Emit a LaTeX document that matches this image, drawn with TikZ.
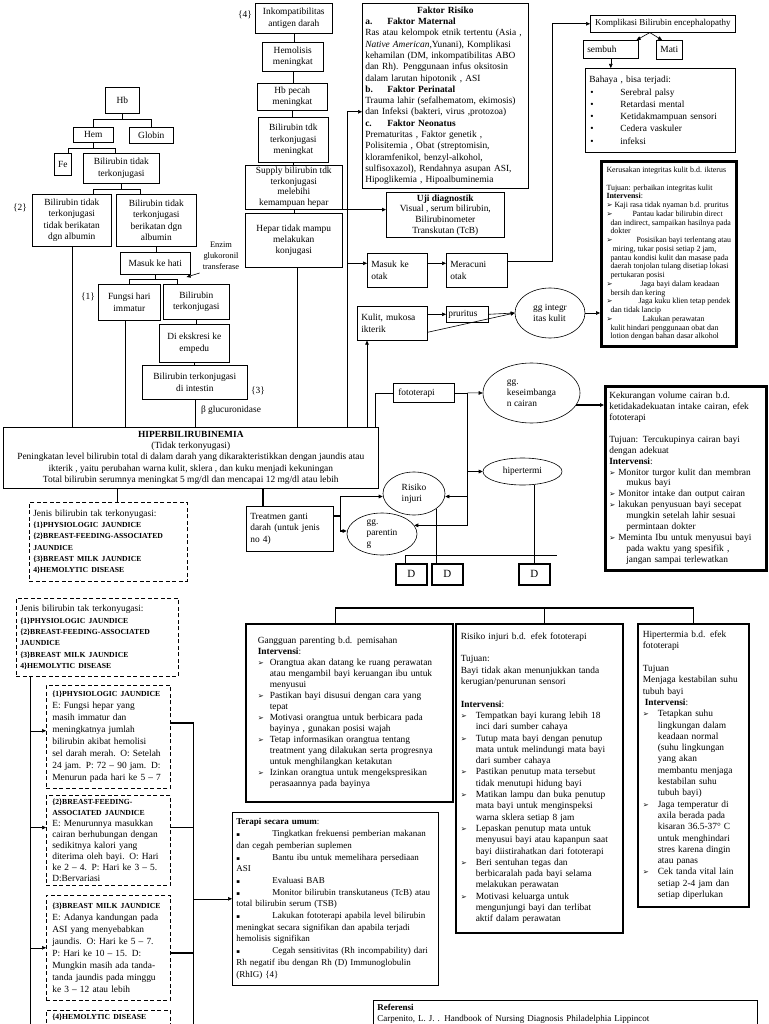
\documentclass[tikz,border=0pt]{standalone}
\usepackage{fontspec}
\setmainfont{Liberation Serif}
\newfontfamily\dingfont{DejaVu Sans}
\usepackage{tikz}
\usetikzlibrary{arrows.meta,shapes.geometric}
\newcommand{\bularr}[1][12pt]{\makebox[#1][l]{\dingfont\fontsize{7.2}{7}\selectfont ➢}}
\newcommand{\bulsq}{\makebox[36pt][l]{\dingfont\fontsize{5.5}{5}\selectfont ▪}}
\newcommand{\buldot}{\hspace*{1pt}\makebox[30pt][l]{•}}
\newcommand{\caps}[1]{{\fontsize{7.7}{11}\selectfont\bfseries #1}}
\tikzset{
  flow box/.style={draw,line width=0.6pt,anchor=north west,align=center,inner sep=1pt,
    font=\fontsize{9.4}{11.2}\selectfont},
  note box/.style={draw,line width=0.6pt,anchor=north west,align=left,inner sep=4pt,
    font=\fontsize{9.4}{11.3}\selectfont},
  heavy note/.style={note box,line width=1.6pt},
  frame note/.style={note box,line width=2.6pt},
  jenis box/.style={note box,dash pattern=on 4pt off 2.5pt},
  state/.style={ellipse,draw,line width=0.6pt,inner sep=0pt,align=left,
    font=\fontsize{9.4}{11}\selectfont},
  d box/.style={draw,line width=1.8pt,anchor=north west,minimum width=31pt,minimum height=21pt,
    inner sep=0pt,font=\fontsize{11}{11}\selectfont},
  side label/.style={inner sep=0pt,align=center,font=\fontsize{9.4}{11}\selectfont},
  flow line/.style={line width=0.6pt},
  bold line/.style={line width=1.6pt},
  flow arrow/.style={-{Triangle[length=4pt,width=3.6pt]},line width=0.6pt},
  bold arrow/.style={flow arrow,line width=1.6pt}
}
\begin{document}
\begin{tikzpicture}[x=1pt,y=-1pt]
  \clip (0,0) rectangle (768,1024);
  % left tree
  \node[flow box,minimum width=34pt,minimum height=26pt] (hb) at (105,87) {Hb};
  \node[flow box,minimum width=40pt,minimum height=15pt] (hem) at (73,127) {Hem};
  \node[flow box,minimum width=44pt,minimum height=16pt] (globin) at (129,127) {Globin};
  \node[flow box,minimum width=17pt,minimum height=22pt] (fe) at (54,153) {Fe};
  \node[flow box,minimum width=76pt,minimum height=30pt] (bt) at (83,153) {Bilirubin tidak\\terkonjugasi};
  \node[flow box,minimum width=79pt,minimum height=52pt] (b2) at (32,194) {Bilirubin tidak\\terkonjugasi\\tidak berikatan\\dgn albumin};
  \node[flow box,minimum width=80pt,minimum height=52pt] (b3) at (116,194) {Bilirubin tidak\\terkonjugasi\\berikatan dgn\\albumin};
  \node[flow box,minimum width=70pt,minimum height=22pt] (masuk) at (120,252) {Masuk ke hati};
  \node[flow box,minimum width=62pt,minimum height=36pt] (fungsi) at (98,284) {Fungsi hari\\immatur};
  \node[flow box,minimum width=66pt,minimum height=35pt] (bterk) at (163,284) {Bilirubin\\terkonjugasi};
  \node[flow box,minimum width=70pt,minimum height=38pt] (ekskresi) at (159,324) {Di ekskresi ke\\empedu};
  \node[flow box,minimum width=105pt,minimum height=34pt] (intestin) at (142,365) {Bilirubin terkonjugasi\\di intestin};
  \node[side label] (lab2) at (20,208) {\{2\}};
  \node[side label] (lab1) at (88,297) {\{1\}};
  \node[side label] (lab3) at (258,391) {\{3\}};
  \node[side label] (lab4) at (245,15) {\{4\}};
  \node[side label,font=\fontsize{8.4}{11}\selectfont] (enzim) at (221,256) {Enzim\\glukoronil\\transferase};
  \node[side label] (glucur) at (231,410) {β glucuronidase};
  % middle column
  \node[flow box,minimum width=77pt,minimum height=30pt] (inkomp) at (255,3) {Inkompatibilitas\\antigen darah};
  \node[flow box,minimum width=61pt,minimum height=29pt] (hemol) at (262,42) {Hemolisis\\meningkat};
  \node[flow box,minimum width=70pt,minimum height=27pt] (hbpecah) at (257,83) {Hb pecah\\meningkat};
  \node[flow box,minimum width=70pt,minimum height=45pt] (biltdk) at (258,117) {Bilirubin tdk\\terkonjugasi\\meningkat};
  \node[flow box,minimum width=97pt,minimum height=44pt,font=\fontsize{9.4}{10.4}\selectfont] (supply) at (245,165) {Supply bilirubin tdk\\terkonjugasi\\melebihi\\kemampuan hepar};
  \node[flow box,minimum width=97pt,minimum height=54pt] (hepar) at (245,213) {Hepar tidak mampu\\melakukan\\konjugasi};
  \node[flow box,minimum width=375pt,minimum height=61pt] (hiper) at (3,427) {\textbf{HIPERBILIRUBINEMIA}\\(Tidak terkonyugasi)\\Peningkatan level bilirubin total di dalam darah yang dikarakteristikkan dengan jaundis atau\\ikterik , yaitu perubahan warna kulit, sklera , dan kuku menjadi kekuningan\\Total bilirubin serumnya meningkat 5 mg/dl dan mencapai 12 mg/dl atau lebih};
  % risk, diagnosis and complications
  \node[note box,inner sep=3pt,text width=160pt,minimum height=185pt] (faktor) at (362,3) {\makebox[160pt]{\textbf{Faktor Risiko}}\\
    \makebox[22pt][l]{\textbf{a.}}\textbf{Faktor Maternal}\\
    Ras atau kelompok etnik tertentu (Asia ,\\
    \textit{Native American},Yunani), Komplikasi\\
    kehamilan (DM, inkompatibilitas ABO\\
    dan Rh). Penggunaan infus oksitosin\\
    dalam larutan hipotonik , ASI\\
    \makebox[22pt][l]{\textbf{b.}}\textbf{Faktor Perinatal}\\
    Trauma lahir (sefalhematom, ekimosis)\\
    dan Infeksi (bakteri, virus ,protozoa)\\
    \makebox[22pt][l]{\textbf{c.}}\textbf{Faktor Neonatus}\\
    Prematuritas , Faktor genetik ,\\
    Polisitemia , Obat (streptomisin,\\
    kloramfenikol, benzyl-alkohol,\\
    sulfisoxazol), Rendahnya asupan ASI,\\
    Hipoglikemia , Hipoalbuminemia};
  \node[flow box,minimum width=118pt,minimum height=45pt,font=\fontsize{9.4}{10.7}\selectfont] (uji) at (386,192) {\textbf{Uji diagnostik}\\Visual , serum bilirubin,\\Bilirubinometer\\Transkutan (TcB)};
  \node[note box,text width=52pt,minimum height=34pt] (otak) at (367,253) {Masuk ke\\otak};
  \node[note box,text width=53pt,minimum height=34pt] (racun) at (446,253) {Meracuni\\otak};
  \node[note box,text width=62pt,minimum height=34pt] (kulit) at (357,306) {Kulit, mukosa\\ikterik};
  \node[note box,inner sep=2pt,text width=38pt,minimum height=16pt] (pruritus) at (446,306) {pruritus};
  \node[note box,inner sep=2pt,text width=51pt,minimum height=19pt,inner xsep=5pt] (foto) at (393,383) {fototerapi};
  \node[note box,text width=79pt,minimum height=45pt] (treat) at (246,506) {Treatmen ganti\\darah (untuk jenis\\no 4)};
  \node[state,minimum width=70pt,minimum height=50pt] (ggint) at (550,313) {gg integr\\itas kulit};
  \node[state,minimum width=97pt,minimum height=60pt] (kesei) at (531.5,393) {gg.\\keseimbanga\\n cairan};
  \node[state,minimum width=79pt,minimum height=27pt] (hipt) at (522.5,471.5) {hipertermi};
  \node[state,minimum width=62pt,minimum height=43pt] (risiko) at (414,493.5) {Risiko\\injuri};
  \node[state,minimum width=70pt,minimum height=42pt] (parent) at (382,534) {gg.\\parentin\\g};
  \node[d box] (d1) at (395,563) {D};
  \node[d box] (d2) at (431,563) {D};
  \node[d box] (d3) at (518,563) {D};
  \node[jenis box,text width=150pt,minimum height=79pt] (jenisa) at (29,502) {Jenis bilirubin tak terkonyugasi:\\
    \caps{\{1\}PHYSIOLOGIC JAUNDICE}\\
    \caps{\{2\}BREAST-FEEDING-ASSOCIATED}\\
    \caps{JAUNDICE}\\
    \caps{\{3\}BREAST MILK JAUNDICE}\\
    \caps{4\}HEMOLYTIC DISEASE}};
  \node[flow box,minimum width=145pt,minimum height=17pt,font=\fontsize{9}{11}\selectfont] (komp) at (590,15) {Komplikasi Bilirubin encephalopathy};
  \node[note box,text width=47pt,minimum height=18pt,inner sep=2pt,inner xsep=4pt] (sembuh) at (583,40) {sembuh};
  \node[flow box,minimum width=26pt,minimum height=19pt] (mati) at (656,40) {Mati};
  \node[note box,text width=142pt,minimum height=84pt,font=\fontsize{9.4}{12.3}\selectfont] (bahaya) at (585,68) {Bahaya , bisa terjadi:\\
    \buldot Serebral palsy\\
    \buldot Retardasi mental\\
    \buldot Ketidakmampuan sensori\\
    \buldot Cedera vaskuler\\
    \buldot infeksi};
  \node[frame note,inner sep=2pt,minimum width=135pt,minimum height=185pt,font=\fontsize{7.9}{8.75}\selectfont] (kerus) at (600,160) {Kerusakan integritas kulit b.d. ikterus\\[8.75pt]
    Tujuan: perbaikan integritas kulit\\
    \textbf{Intervensi}:\\
    \bularr[8pt]Kaji rasa tidak nyaman b.d. pruritus\\
    \bularr[8pt]\hspace*{18pt}Pantau kadar bilirubin direct\\
    \hspace*{4pt}dan indirect, sampaikan hasilnya pada\\
    \hspace*{4pt}dokter\\
    \bularr[8pt]\hspace*{22pt}Posisikan bayi terlentang atau\\
    \hspace*{6pt}miring, tukar posisi setiap 2 jam,\\
    \hspace*{4pt}pantau kondisi kulit dan masase pada\\
    \hspace*{4pt}daerah tonjolan tulang disetiap lokasi\\
    \hspace*{4pt}pertukaran posisi\\
    \bularr[8pt]\hspace*{26pt}Jaga bayi dalam keadaan\\
    \hspace*{4pt}bersih dan kering\\
    \bularr[8pt]\hspace*{24pt}Jaga kuku klien tetap pendek\\
    \hspace*{4pt}dan tidak lancip\\
    \bularr[8pt]\hspace*{28pt}Lakukan perawatan\\
    \hspace*{4pt}kulit hindari penggunaan obat dan\\
    \hspace*{4pt}lotion dengan bahan dasar alkohol};
  \node[frame note,text width=153pt,minimum height=184pt,font=\fontsize{9.4}{10.9}\selectfont] (kurang) at (604,385) {Kekurangan volume cairan b.d.\\
    ketidakadekuatan intake cairan, efek\\
    fototerapi\\[10.9pt]
    Tujuan: Tercukupinya cairan bayi\\
    dengan adekuat\\
    \textbf{Intervensi}:\\
    \bularr[9pt]Monitor turgor kulit dan membran\\
    \hspace*{17pt}mukus bayi\\
    \bularr[9pt]Monitor intake dan output cairan\\
    \bularr[9pt]lakukan penyusuan bayi secepat\\
    \hspace*{17pt}mungkin setelah lahir sesuai\\
    \hspace*{17pt}permintaan dokter\\
    \bularr[9pt]Meminta Ibu untuk menyusui bayi\\
    \hspace*{17pt}pada waktu yang spesifik ,\\
    \hspace*{17pt}jangan sampai terlewatkan};
  % nursing diagnoses
  \node[heavy note,inner xsep=12pt,text width=183pt,minimum height=178pt,font=\fontsize{9.4}{11}\selectfont] (gangguan) at (245,623) {Gangguan parenting b.d. pemisahan\\
    \textbf{Intervensi}:\\
    \bularr Orangtua akan datang ke ruang perawatan\\
    \hspace*{12pt}atau mengambil bayi keruangan ibu untuk\\
    \hspace*{12pt}menyusui\\
    \bularr Pastikan bayi disusui dengan cara yang\\
    \hspace*{12pt}tepat\\
    \bularr Motivasi orangtua untuk berbicara pada\\
    \hspace*{12pt}bayinya , gunakan posisi wajah\\
    \bularr Tetap informasikan orangtua tentang\\
    \hspace*{12pt}treatment yang dilakukan serta progresnya\\
    \hspace*{12pt}untuk menghilangkan ketakutan\\
    \bularr Izinkan orangtua untuk mengekspresikan\\
    \hspace*{12pt}perasaannya pada bayinya};
  \node[heavy note,inner xsep=5pt,text width=157pt,minimum height=309pt] (risikob) at (455,623) {Risiko injuri b.d. efek fototerapi\\[11.3pt]
    Tujuan:\\
    Bayi tidak akan menunjukkan tanda\\
    kerugian/penurunan sensori\\[11.3pt]
    \textbf{Intervensi}:\\
    \bularr[15pt]Tempatkan bayi kurang lebih 18\\
    \hspace*{15pt}inci dari sumber cahaya\\
    \bularr[15pt]Tutup mata bayi dengan penutup\\
    \hspace*{15pt}mata untuk melindungi mata bayi\\
    \hspace*{15pt}dari sumber cahaya\\
    \bularr[15pt]Pastikan penutup mata tersebut\\
    \hspace*{15pt}tidak menutupi hidung bayi\\
    \bularr[15pt]Matikan lampu dan buka penutup\\
    \hspace*{15pt}mata bayi untuk menginspeksi\\
    \hspace*{15pt}warna sklera setiap 8 jam\\
    \bularr[15pt]Lepaskan penutup mata untuk\\
    \hspace*{15pt}menyusui bayi atau kapanpun saat\\
    \hspace*{15pt}bayi diistirahatkan dari fototerapi\\
    \bularr[15pt]Beri sentuhan tegas dan\\
    \hspace*{15pt}berbicaralah pada bayi selama\\
    \hspace*{15pt}melakukan perawatan\\
    \bularr[15pt]Motivasi keluarga untuk\\
    \hspace*{15pt}mengunjungi bayi dan terlibat\\
    \hspace*{15pt}aktif dalam perawatan};
  \node[heavy note,inner xsep=5pt,text width=101pt,minimum height=283pt] (hiptb) at (637,623) {Hipertermia b.d. efek\\
    fototerapi\\[11.3pt]
    Tujuan\\
    Menjaga kestabilan suhu\\
    tubuh bayi\\
    \hspace*{2pt}\textbf{Intervensi}:\\
    \bularr[15pt]Tetapkan suhu\\
    \hspace*{15pt}lingkungan dalam\\
    \hspace*{15pt}keadaan normal\\
    \hspace*{15pt}(suhu lingkungan\\
    \hspace*{15pt}yang akan\\
    \hspace*{15pt}membantu menjaga\\
    \hspace*{15pt}kestabilan suhu\\
    \hspace*{15pt}tubuh bayi)\\
    \bularr[15pt]Jaga temperatur di\\
    \hspace*{15pt}axila berada pada\\
    \hspace*{15pt}kisaran 36.5-37° C\\
    \hspace*{15pt}untuk menghindari\\
    \hspace*{15pt}stres  karena dingin\\
    \hspace*{15pt}atau panas\\
    \bularr[15pt]Cek tanda vital lain\\
    \hspace*{15pt}setiap 2-4 jam dan\\
    \hspace*{15pt}setiap diperlukan};
  \node[note box,text width=198pt,minimum height=173pt,font=\fontsize{9}{11.7}\selectfont] (terapi) at (232,812) {\textbf{Terapi secara umum}:\\
    \bulsq Tingkatkan frekuensi pemberian makanan\\
    dan cegah pemberian suplemen\\
    \bulsq Bantu ibu untuk memelihara persediaan\\
    ASI\\
    \bulsq Evaluasi BAB\\
    \bulsq Monitor bilirubin transkutaneus (TcB) atau\\
    total bilirubin serum (TSB)\\
    \bulsq Lakukan fototerapi apabila level bilirubin\\
    meningkat secara signifikan dan apabila terjadi\\
    hemolisis signifikan\\
    \bulsq Cegah sensitivitas (Rh incompability) dari\\
    Rh negatif ibu dengan Rh (D) Immunoglobulin\\
    (RhIG) \{4\}};
  \node[note box,text width=376pt,font=\fontsize{9}{11}\selectfont] (ref) at (373,1000) {\textbf{Referensi}\\
    Carpenito, L. J. . Handbook of Nursing Diagnosis Philadelphia Lippincot\\ \mbox{}\\ \mbox{}};
  % jaundice types
  \node[jenis box,text width=154pt,minimum height=78pt] (jenisb) at (16,598) {Jenis bilirubin tak terkonyugasi:\\
    \caps{\{1\}PHYSIOLOGIC JAUNDICE}\\
    \caps{\{2\}BREAST-FEEDING-ASSOCIATED}\\
    \caps{JAUNDICE}\\
    \caps{\{3\}BREAST MILK JAUNDICE}\\
    \caps{4\}HEMOLYTIC DISEASE}};
  \node[jenis box,inner xsep=6pt,text width=112pt,minimum height=103pt,font=\fontsize{9.4}{11.9}\selectfont] (phys) at (46,685) {\caps{\{1\}PHYSIOLOGIC JAUNDICE}\\
    E: Fungsi hepar yang\\
    masih immatur dan\\
    meningkatnya jumlah\\
    bilirubin akibat hemolisi\\
    sel darah merah. O: Setelah\\
    24 jam. P: 72 – 90 jam. D:\\
    Menurun pada hari ke 5 – 7};
  \node[jenis box,inner xsep=6pt,text width=112pt,minimum height=90pt,font=\fontsize{9.4}{11}\selectfont] (bfeed) at (46,795) {\caps{\{2\}BREAST-FEEDING-}\\
    \caps{ASSOCIATED JAUNDICE}\\
    E: Menurunnya masukkan\\
    cairan berhubungan dengan\\
    sedikitnya kalori yang\\
    diterima oleh bayi. O: Hari\\
    ke 2 – 4. P: Hari ke 3 – 5.\\
    D:Bervariasi};
  \node[jenis box,inner xsep=6pt,text width=112pt,minimum height=105pt,font=\fontsize{9.4}{11.9}\selectfont] (milk) at (46,895) {\caps{\{3\}BREAST MILK JAUNDICE}\\
    E: Adanya kandungan pada\\
    ASI yang menyebabkan\\
    jaundis. O: Hari ke 5 – 7.\\
    P: Hari ke 10 – 15. D:\\
    Mungkin masih ada tanda-\\
    tanda jaundis pada minggu\\
    ke 3 – 12 atau lebih};
  \node[jenis box,inner xsep=6pt,text width=112pt] (hemo) at (46,1010) {\caps{\{4\}HEMOLYTIC DISEASE}\\ \mbox{}\\ \mbox{}};
  % tree connectors
  \draw[flow line] (hb.south) -- ++(0,6) -| (hem.north);
  \draw[flow line] (hb.south) ++(0,6) -| (globin.north);
  \draw[flow line] (hem.south) -- ++(0,6) -| ([xshift=5pt]fe.north);
  \draw[flow line] (hem.south) ++(0,6) -| ([xshift=-6pt]bt.north);
  \draw[flow line] (bt.south) -- ++(0,6) -| ([xshift=21pt]b2.north);
  \draw[flow line] (bt.south) ++(0,6) -| ([xshift=-16pt]b3.north);
  \draw[flow line] (b3.south) -- (b3.south |- masuk.north);
  \draw[flow line] (masuk.south) -- ++(0,5) -| (fungsi.north);
  \draw[flow line] (masuk.south) ++(0,5) -| ([xshift=-19pt]bterk.north);
  \draw[flow arrow] ([xshift=-3pt,yshift=-3pt]enzim.south west) -- ++(-13,4);
  \draw[flow line] (bterk.south) -- (bterk.south |- ekskresi.north);
  \draw[flow line] (ekskresi.south) -- (ekskresi.south |- intestin.north);
  \draw[flow line] (b2.south) -- (b2.south |- hiper.north);
  \draw[flow line] ([xshift=-4pt]fungsi.south) -- ([xshift=-4pt]fungsi.south |- hiper.north);
  \draw[flow line] (intestin.south) -- (intestin.south |- hiper.north);
  \draw[flow line] ([xshift=3pt]hepar.south) -- ([xshift=3pt]hepar.south |- hiper.north);
  \draw[flow line] (inkomp.south) -- (inkomp.south |- hemol.north);
  \draw[flow line] (hemol.south) -- (hemol.south |- hbpecah.north);
  \draw[flow line] (hbpecah.south) -- (hbpecah.south |- biltdk.north);
  \draw[flow line] (biltdk.south) -- (biltdk.south |- supply.north);
  \draw[flow line] (supply.south) -- (supply.south |- hepar.north);
  % risk line and brain branch
  \coordinate (riskline) at ([xshift=344pt]hiper.north west);
  \draw[flow arrow] (riskline) |- ([yshift=-16pt]faktor.west);
  \draw[flow arrow] ([yshift=7pt]otak.west -| riskline) -- ([yshift=7pt]otak.west);
  \draw[bold arrow] (supply.south east) -- (supply.south east -| uji.west);
  \draw[flow arrow] ([yshift=7pt]otak.east) -- ([yshift=7pt]racun.west);
  \draw[flow arrow] ([yshift=9pt]racun.east) -- ++(45,0) |- (komp.west);
  \draw[flow arrow] ([xshift=-13pt]komp.south) -- ([xshift=-2pt]sembuh.north east);
  \draw[flow arrow] ([xshift=-13pt]komp.south) -- ([xshift=6pt]mati.north west);
  \draw[flow arrow] (sembuh.south) -- (sembuh.south |- bahaya.north);
  % skin branch
  \draw[flow arrow] ([xshift=10pt]kulit.south west |- hiper.north) -- ([xshift=10pt]kulit.south west);
  \draw[flow arrow] (kulit.east |- pruritus.west) -- (pruritus.west);
  \draw[flow arrow] (pruritus.east) -- (ggint.west);
  \draw[flow arrow] ([yshift=-9pt]kulit.east) -- (ggint.west);
  \draw[flow arrow] (ggint.east) -- (ggint.east -| kerus.west);
  % phototherapy branch
  \draw[flow line] ([xshift=372pt]hiper.north west) |- (foto.west);
  \coordinate (fotoj) at ([xshift=13pt]foto.east);
  \draw[flow line] (foto.east) -- (fotoj);
  \draw[flow arrow] (fotoj) -- (kesei.west);
  \draw[flow arrow] (fotoj) |- (hipt.west);
  \draw[flow arrow] (fotoj) |- ([yshift=-3pt]risiko.east);
  \draw[flow arrow] (fotoj) |- (parent.15);
  \draw[bold arrow] (kesei.-15) -- (kesei.-15 -| kurang.west);
  % exchange transfusion and types
  \draw[bold line] ([xshift=9pt]jenisa.north |- hiper.south) -- ([xshift=9pt]jenisa.north);
  \draw[bold line] ([xshift=-27pt]treat.north |- hiper.south) -- ([xshift=-27pt]treat.north);
  \coordinate (treatj) at ([xshift=7pt,yshift=13pt]treat.east);
  \draw[bold line] ([yshift=13pt]treat.east) -- (treatj);
  \draw[bold arrow] (treatj) |- ([yshift=-3pt]risiko.west);
  \draw[bold arrow] (treatj) |- ([yshift=3pt]parent.west);
  \draw[flow line] (risiko.-35) -- (risiko.-35 |- d2.north);
  \draw[flow line] ([xshift=23pt]parent.south) -- ([xshift=23pt]parent.south |- d1.north);
  \draw[flow line] ([xshift=23pt]parent.south) -- ([xshift=23pt]parent.south -| d3.north);
  \draw[flow line] ([xshift=12pt]hipt.south) -- ([xshift=12pt]hipt.south |- d3.north);
  \draw[bold line] ([xshift=-14pt]gangguan.north) -- ++(0,-15) -| (hiptb.north);
  \draw[bold line] ([xshift=5pt]risikob.north) -- ++(0,-15);
  % jaundice type column
  \coordinate (jline) at ([xshift=14pt]jenisb.south west);
  \draw[flow line] (jline) -- ++(0,350);
  \draw[flow arrow] ([yshift=6pt]phys.west -| jline) -- ([yshift=6pt]phys.west);
  \draw[flow arrow] ([yshift=13pt]bfeed.west -| jline) -- ([yshift=13pt]bfeed.west);
  \draw[flow arrow] (milk.west -| jline) -- (milk.west);
  \coordinate (tline) at ([xshift=23pt,yshift=14pt]phys.east);
  \draw[bold line] ([yshift=14pt]phys.east) -- (tline) -- ++(0,310);
  \draw[bold line] ([yshift=13pt]bfeed.east) -- ([yshift=13pt]bfeed.east -| tline);
  \draw[bold line] ([yshift=-5pt]milk.east) -- ([yshift=-5pt]milk.east -| tline);
  \draw[flow arrow] (terapi.west -| tline) -- (terapi.west);
\end{tikzpicture}
\end{document}
